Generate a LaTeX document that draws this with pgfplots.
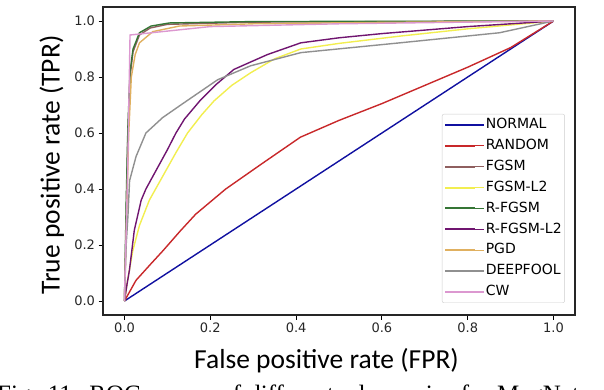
\documentclass[border=0pt]{standalone}
\usepackage{fontspec}
\setmainfont{DejaVu Sans}
\newfontfamily\labfont{Carlito}
\newfontfamily\capfont{Liberation Serif}
\usepackage{pgfplots}
\pgfplotsset{compat=1.18}
\definecolor{cNormal}{HTML}{1010A0}
\definecolor{cRandom}{HTML}{C8282A}
\definecolor{cFgsm}{HTML}{8F5F5F}
\definecolor{cFgsmL}{HTML}{F2EE50}
\definecolor{cRfgsm}{HTML}{357535}
\definecolor{cRfgsmL}{HTML}{701570}
\definecolor{cPgd}{HTML}{E0B060}
\definecolor{cDeep}{HTML}{909090}
\definecolor{cCw}{HTML}{DC98D0}
\begin{document}
\begin{tikzpicture}
\useasboundingbox (-103pt,-75pt) rectangle (501pt,315pt);
\begin{axis}[
  at={(0pt,0pt)}, anchor=south west,
  scale only axis, width=472pt, height=308pt,
  xmin=-0.05, xmax=1.05, ymin=-0.05, ymax=1.05,
  xtick={0,0.2,0.4,0.6,0.8,1.0},
  ytick={0,0.2,0.4,0.6,0.8,1.0},
  /pgf/number format/assume math mode=true,
  /pgf/number format/fixed, /pgf/number format/fixed zerofill,
  /pgf/number format/precision=1,
  tick label style={font=\fontsize{13}{13}\selectfont, color=black!85},
  tick align=outside, major tick length=4.5pt,
  tick style={black, line width=0.9pt},
  xtick pos=bottom, ytick pos=left,
  axis line style={line width=1.4pt, black!85},
  xlabel={False positive rate (FPR)},
  ylabel={True positive rate (TPR)},
  xlabel style={font=\labfont\fontsize{27.5}{27.5}\selectfont, anchor=base, at={(axis description cs:0.4735,-0.173)}},
  ylabel style={font=\labfont\fontsize{27.5}{27.5}\selectfont, anchor=base, rotate=0, at={(axis description cs:-0.092,0.487)}},
  legend style={at={(axis description cs:0.718,0.653)}, anchor=north west,
    font=\fontsize{14}{14}\selectfont, draw=black!20, rounded corners=2pt,
    fill=white, inner xsep=2pt, inner ysep=3pt, row sep=5.4pt, column sep=0pt,
    nodes={inner sep=1pt, text height=10.5pt, text depth=3pt}},
  legend cell align=left,
  legend image code/.code={\draw[#1, line width=2pt] (0pt,0pt) -- (30pt,0pt); \path (0pt,0pt) -- (39pt,0pt);},
  every axis plot/.append style={line width=1.4pt},
]
\addplot[cNormal] coordinates {(0,0)(1,1)};
\addlegendentry{NORMAL}
\addplot[cRandom] coordinates {(0,0)(0.027,0.074)(0.06,0.13)(0.09,0.18)(0.13,0.25)(0.166,0.31)(0.236,0.40)(0.32,0.49)(0.41,0.585)(0.5,0.645)(0.6,0.705)(0.7,0.77)(0.8,0.835)(0.9,0.905)(1,1)};
\addlegendentry{RANDOM}
\addplot[cFgsm] coordinates {(0,0)(0.004,0.3)(0.008,0.6)(0.013,0.8)(0.02,0.89)(0.035,0.95)(0.06,0.975)(0.1,0.988)(0.3,0.996)(1,1)};
\addlegendentry{FGSM}
\addplot[cFgsmL] coordinates {(0,0)(0.008,0.08)(0.0195,0.18)(0.035,0.27)(0.058,0.36)(0.089,0.445)(0.12,0.53)(0.147,0.6)(0.18,0.665)(0.209,0.715)(0.25,0.77)(0.294,0.815)(0.35,0.865)(0.411,0.9)(0.5,0.92)(0.642,0.946)(0.8,0.972)(1,1)};
\addlegendentry{FGSM-L2}
\addplot[cRfgsm] coordinates {(0,0)(0.004,0.35)(0.008,0.62)(0.013,0.82)(0.02,0.9)(0.035,0.958)(0.062,0.982)(0.105,0.993)(0.3,0.998)(1,1)};
\addlegendentry{R-FGSM}
\addplot[cRfgsmL] coordinates {(0,0)(0.006,0.06)(0.0116,0.11)(0.023,0.253)(0.039,0.36)(0.05,0.4)(0.075,0.47)(0.1,0.54)(0.12,0.6)(0.14,0.65)(0.178,0.719)(0.215,0.775)(0.255,0.827)(0.333,0.88)(0.411,0.922)(0.5,0.94)(0.6,0.955)(0.8,0.98)(1,1)};
\addlegendentry{R-FGSM-L2}
\addplot[cPgd] coordinates {(0,0)(0.005,0.3)(0.01,0.6)(0.016,0.8)(0.025,0.88)(0.035,0.922)(0.066,0.962)(0.128,0.982)(0.3,0.99)(0.6,0.995)(1,1)};
\addlegendentry{PGD}
\addplot[cDeep] coordinates {(0,0)(0.004,0.2)(0.008,0.3)(0.012,0.43)(0.027,0.516)(0.05,0.6)(0.089,0.655)(0.136,0.705)(0.217,0.79)(0.294,0.84)(0.411,0.887)(0.642,0.922)(0.874,0.958)(1,1)};
\addlegendentry{DEEPFOOL}
\addplot[cCw] coordinates {(0,0)(0.008,0.5)(0.013,0.95)(0.2,0.98)(0.5,0.99)(1,1)};
\addlegendentry{CW}
\end{axis}
\node[anchor=base west, inner sep=0pt, font=\capfont\fontsize{25}{25}\selectfont] at (-106pt,-87.5pt) {\makebox[614pt][s]{Fig. 11. ROC curves of different adversaries for MagNet on}};
\end{tikzpicture}
\end{document}
